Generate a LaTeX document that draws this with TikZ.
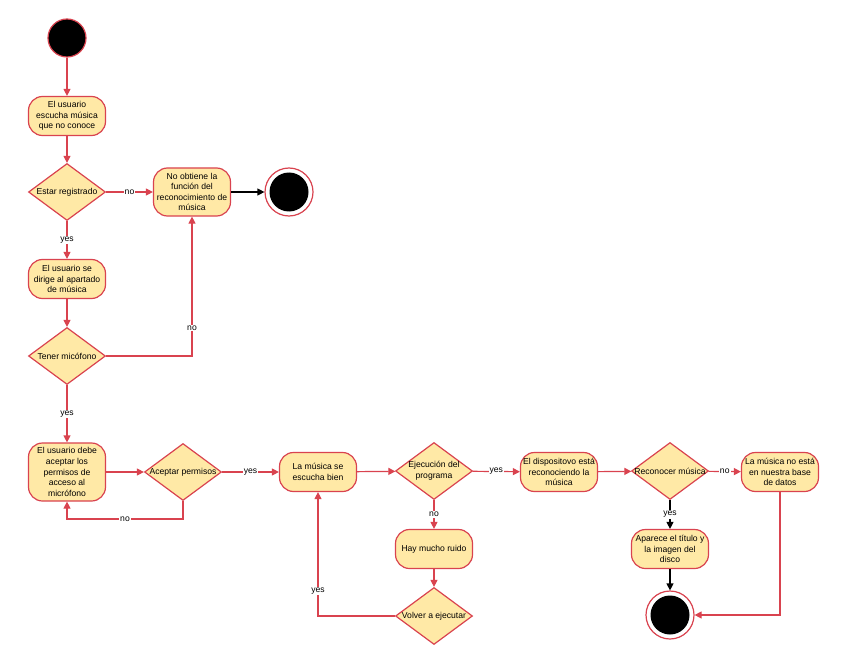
\documentclass[tikz,border=0pt]{standalone}
\usepackage{fontspec}
\setmainfont{Liberation Sans}
\usetikzlibrary{shapes.geometric,arrows.meta}
\definecolor{lred}{HTML}{D9434F}
\definecolor{lfill}{HTML}{FFE9A6}
\tikzset{
  every node/.style={font=\fontsize{8.6}{10.6}\selectfont},
  act/.style={draw=lred, line width=1.2pt, fill=lfill, rectangle, rounded corners=14pt,
    minimum width=77pt, minimum height=39pt, align=center, inner sep=1pt},
  dec/.style={draw=lred, line width=1.2pt, fill=lfill, diamond, minimum width=77pt,
    minimum height=57pt, inner sep=0pt},
  startnode/.style={circle, fill=black, draw=lred, line width=1.2pt, minimum size=38pt, inner sep=0pt},
  endnode/.style={circle, draw=lred, fill=white, line width=1.2pt, minimum size=48pt, inner sep=0pt,
    path picture={\fill[black] (path picture bounding box.center) circle (19.5pt);}},
  flow/.style={draw=lred, line width=1.2pt, -{Triangle[length=7pt,width=7pt]}},
  bflow/.style={draw=black, line width=1.2pt, -{Triangle[length=7pt,width=7pt]}},
  lab/.style={fill=white, inner sep=1pt}
}
\begin{document}
\begin{tikzpicture}[x=1pt,y=-1pt]
\useasboundingbox (0,0) rectangle (848,655);
\node[startnode] (s) at (67,38) {};
\node[act] (n1) at (67,116) {El usuario\\escucha música\\que no conoce};
\node[dec] (d1) at (67,192) {};
\node at (d1.center) {Estar registrado};
\node[act, minimum height=48pt] (n2) at (192,192) {No obtiene la\\función del\\reconocimiento de\\música};
\node[endnode] (e1) at (289,192) {};
\node[act] (n3) at (67,279) {El usuario se\\dirige al apartado\\de música};
\node[dec] (d2) at (67,356) {};
\node at (d2.center) {Tener micófono};
\node[act, minimum height=58pt] (n4) at (67,472) {El usuario debe\\aceptar los\\permisos de\\acceso al\\micrófono};
\node[dec] (d3) at (183,472) {};
\node at (d3.center) {Aceptar permisos};
\node[act] (n5) at (318,472) {La música se\\escucha bien};
\node[dec] (d4) at (434,471) {};
\node[align=center] at (d4.center) {Ejecución del\\programa};
\node[act] (n6) at (559,472) {El dispositovo está\\reconociendo la\\música};
\node[act] (n7) at (434,549) {Hay mucho ruido};
\node[dec] (d5) at (434,616) {};
\node at (d5.center) {Volver a ejecutar};
\node[dec] (d6) at (670,471) {};
\node at (d6.center) {Reconocer música};
\node[act] (n8) at (780,472) {La música no está\\en nuestra base\\de datos};
\node[act] (n9) at (670,549) {Aparece el título y\\la imagen del\\disco};
\node[endnode] (e2) at (670,615) {};
\coordinate (c1) at (183,519);
\coordinate (c2) at (67,519);

\draw[flow] (s) -- (n1);
\draw[flow] (n1) -- (d1);
\draw[flow] (d1) -- node[lab]{no} (n2);
\draw[bflow] (n2) -- (e1);
\draw[flow] (d1) -- node[lab]{yes} (n3);
\draw[flow] (n3) -- (d2);
\draw[flow] (d2.east) -| node[lab,pos=0.6]{no} (n2.south);
\draw[flow] (d2) -- node[lab]{yes} (n4);
\draw[flow] (n4) -- (d3);
\draw[flow] (d3.south) -- (c1) -- node[lab]{no} (c2) -- (n4.south);
\draw[flow] (d3) -- node[lab]{yes} (n5);
\draw[flow] (n5) -- (d4);
\draw[flow] (d4) -- node[lab]{yes} (n6);
\draw[flow] (d4) -- node[lab]{no} (n7);
\draw[flow] (n7) -- (d5);
\draw[flow] (d5.west) -| node[lab,pos=0.6]{yes} (n5.south);
\draw[flow] (n6) -- (d6);
\draw[flow] (d6) -- node[lab]{no} (n8);
\draw[bflow] (d6) -- node[lab]{yes} (n9);
\draw[bflow] (n9) -- (e2);
\draw[flow] (n8.south) |- (e2.east);
\end{tikzpicture}
\end{document}
